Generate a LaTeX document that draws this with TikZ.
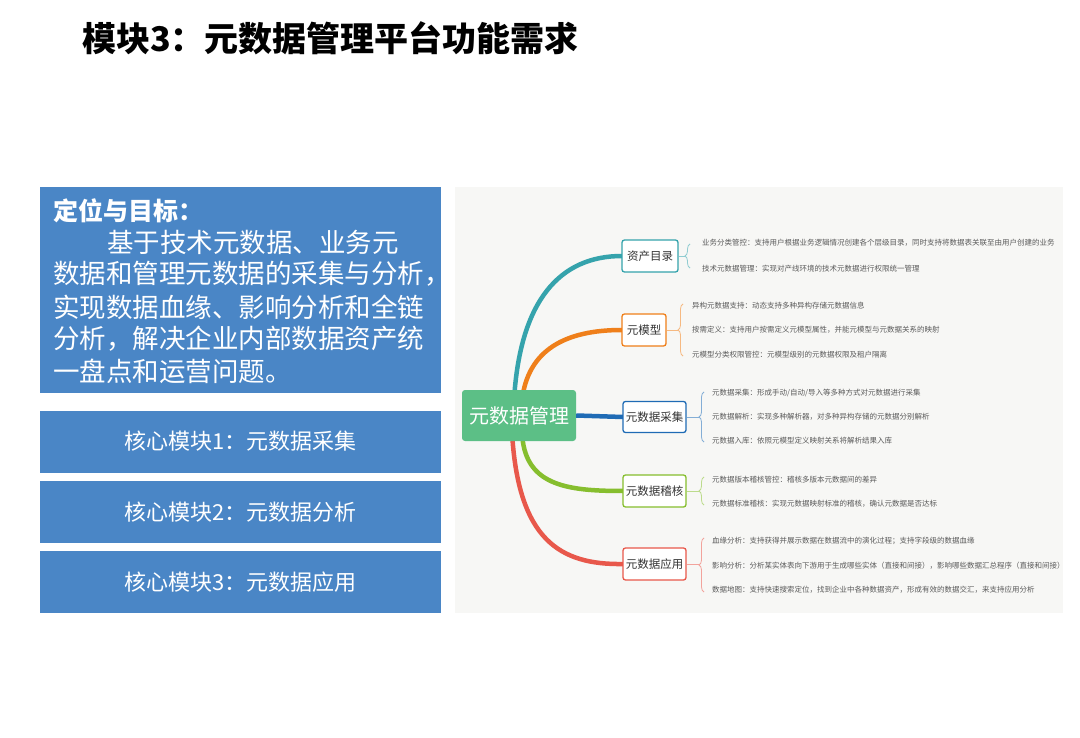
\documentclass[tikz,border=0pt]{standalone}
\usepackage{fontspec}
\setmainfont{Noto Sans CJK SC}
\usetikzlibrary{decorations.pathreplacing}
\definecolor{leftblue}{HTML}{4A86C6}
\definecolor{panelbg}{HTML}{F7F7F5}
\definecolor{rootgreen}{HTML}{5CBF86}
\definecolor{cteal}{HTML}{35A3AC}
\definecolor{corange}{HTML}{EF7F1A}
\definecolor{cblue}{HTML}{1F6BB5}
\definecolor{cgreen}{HTML}{86BE2E}
\definecolor{cred}{HTML}{E8584B}
\definecolor{leafgrey}{HTML}{5A5A5A}
\newcommand{\fsz}[1]{\fontsize{#1}{#1}\selectfont}
\tikzset{
  bluebox/.style={draw=none, fill=leftblue, inner sep=0pt},
  lefttext/.style={anchor=west, text=white, inner sep=0pt, font=\fsz{26.5}},
  modtext/.style={text=white, inner sep=0pt, font=\fsz{22}},
  branchnode/.style={draw=#1, line width=1.3pt, fill=white, rounded corners=2.5pt, inner sep=0pt, minimum height=32pt, font=\fsz{11.5}, text=black!80},
  branch/.style={draw=#1, line width=4.5pt, line cap=round},
  leaf/.style={anchor=west, inner sep=0pt, font=\fsz{7.5}, text=leafgrey},
  bracebr/.style={draw=#1!55, line width=0.8pt, decorate, decoration={brace, amplitude=5pt}},
  tickline/.style={draw=#1!55, line width=0.8pt},
}
\begin{document}
\begin{tikzpicture}[x=1pt, y=-1pt]
\useasboundingbox (0,0) rectangle (1080,738);
\fill[white] (0,0) rectangle (1080,738);
% title
\node[anchor=west, inner sep=0pt, font=\fsz{34}\bfseries] (title) at (82,38) {模块3：元数据管理平台功能需求};
% left side
\node[bluebox, minimum width=401pt, minimum height=206pt] (goalbox) at (240.5,290) {};
\node[lefttext, font=\fsz{25}\bfseries] (g0) at (53,211) {定位与目标：};
\node[lefttext] (g1) at (107,242) {基于技术元数据、业务元};
\node[lefttext] (g2) at (53,274) {数据和管理元数据的采集与分析，};
\node[lefttext] (g3) at (53,307) {实现数据血缘、影响分析和全链};
\node[lefttext] (g4) at (53,339) {分析，解决企业内部数据资产统};
\node[lefttext] (g5) at (53,371) {一盘点和运营问题。};
\node[bluebox, minimum width=401pt, minimum height=62pt] (m1) at (240.5,441.5) {};
\node[modtext] (m1t) at (m1.center) {核心模块1：元数据采集};
\node[bluebox, minimum width=401pt, minimum height=62pt] (m2) at (240.5,512) {};
\node[modtext] (m2t) at (m2.center) {核心模块2：元数据分析};
\node[bluebox, minimum width=401pt, minimum height=62pt] (m3) at (240.5,582) {};
\node[modtext] (m3t) at (m3.center) {核心模块3：元数据应用};
% panel
\fill[panelbg] (455,187) rectangle (1063,613);
% branch node positions (drawn later on top)
\coordinate (b1) at (650,256);
\coordinate (b2) at (644,330);
\coordinate (b3) at (654.5,417);
\coordinate (b4) at (654.5,491);
\coordinate (b5) at (654.5,564);
% curves
\coordinate (s1) at (514,400);
\coordinate (s2) at (522,400);
\coordinate (s4) at (522,432);
\coordinate (s5) at (512,432);
\coordinate (e1) at (622,256);
\coordinate (e2) at (622,330);
\coordinate (e4) at (623,491);
\coordinate (e5) at (623,564);
\draw[branch=cteal] (s1) .. controls (520,300) and (560,256) .. (e1);
\draw[branch=corange] (s2) .. controls (528,350) and (565,330) .. (e2);
\draw[branch=cgreen] (s4) .. controls (524,485) and (565,491) .. (e4);
\draw[branch=cred] (s5) .. controls (518,540) and (560,565) .. (e5);
% root
\node[fill=rootgreen, rounded corners=3pt, minimum width=114pt, minimum height=51pt, inner sep=0pt, text=white, font=\fsz{20}] (root) at (519,415.5) {元数据管理};
\coordinate (e3) at (623,417);
\draw[branch=cblue, line cap=butt] (root.east) -- (e3);
% branch nodes
\node[branchnode=cteal, minimum width=56pt] (n1) at (b1) {资产目录};
\node[branchnode=corange, minimum width=44pt] (n2) at (b2) {元模型};
\node[branchnode=cblue, minimum width=63pt, minimum height=31pt] (n3) at (b3) {元数据采集};
\node[branchnode=cgreen, minimum width=63pt] (n4) at (b4) {元数据稽核};
\node[branchnode=cred, minimum width=63pt] (n5) at (b5) {元数据应用};
% braces
\coordinate (k1) at (685,256);
\draw[tickline=cteal] (n1.east) -- (k1);
\draw[bracebr=cteal] (690,268) -- (690,244);
\coordinate (k2) at (678,330);
\draw[tickline=corange] (n2.east) -- (k2);
\draw[bracebr=corange] (683,356) -- (683,304);
\coordinate (k3) at (699,417);
\draw[tickline=cblue] (n3.east) -- (k3);
\draw[bracebr=cblue] (704,442) -- (704,392);
\coordinate (k4) at (699,491);
\draw[tickline=cgreen] (n4.east) -- (k4);
\draw[bracebr=cgreen] (704,505) -- (704,477);
\coordinate (k5) at (699,564);
\draw[tickline=cred] (n5.east) -- (k5);
\draw[bracebr=cred] (704,592) -- (704,538);
% leaves
\node[leaf] (l11) at (702,243) {业务分类管控：支持用户根据业务逻辑情况创建各个层级目录，同时支持将数据表关联至由用户创建的业务};
\node[leaf] (l12) at (702,269) {技术元数据管理：实现对产线环境的技术元数据进行权限统一管理};
\node[leaf] (l21) at (692,306) {异构元数据支持：动态支持多种异构存储元数据信息};
\node[leaf] (l22) at (692,330) {按需定义：支持用户按需定义元模型属性，并能元模型与元数据关系的映射};
\node[leaf] (l23) at (692,355) {元模型分类权限管控：元模型级别的元数据权限及租户隔离};
\node[leaf] (l31) at (712,393) {元数据采集：形成手动/自动/导入等多种方式对元数据进行采集};
\node[leaf] (l32) at (712,417) {元数据解析：实现多种解析器，对多种异构存储的元数据分别解析};
\node[leaf] (l33) at (712,441) {元数据入库：依照元模型定义映射关系将解析结果入库};
\node[leaf] (l41) at (712,480) {元数据版本稽核管控：稽核多版本元数据间的差异};
\node[leaf] (l42) at (712,504) {元数据标准稽核：实现元数据映射标准的稽核，确认元数据是否达标};
\node[leaf] (l51) at (712,541) {血缘分析：支持获得并展示数据在数据流中的演化过程；支持字段级的数据血缘};
\node[leaf] (l52) at (712,566) {影响分析：分析某实体表向下游用于生成哪些实体（直接和间接），影响哪些数据汇总程序（直接和间接）};
\node[leaf] (l53) at (712,590) {数据地图：支持快速搜索定位，找到企业中各种数据资产，形成有效的数据交汇，来支持应用分析};
\end{tikzpicture}
\end{document}
